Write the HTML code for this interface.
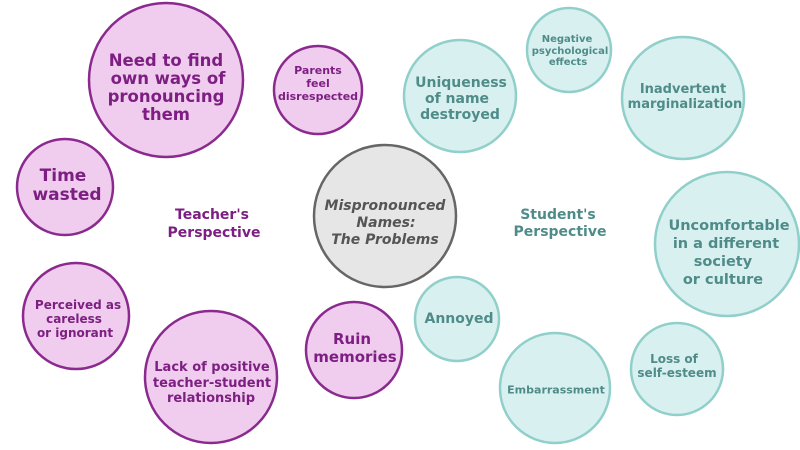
<!DOCTYPE html>
<html><head><meta charset="utf-8"><style>
html,body{margin:0;padding:0;background:#fff;}
svg{display:block;}
text{font-family:"DejaVu Sans","Liberation Sans",sans-serif;font-weight:bold;text-anchor:middle;dominant-baseline:central;}
.p{fill:#7d1f82;}
.t{fill:#4f8c89;}
.pc{fill:#f0cdee;stroke:#8b2a8e;stroke-width:2.5;}
.tc{fill:#d8f0ef;stroke:#90cfca;stroke-width:2.5;}
</style></head><body>
<svg width="800" height="450" viewBox="0 0 800 450">
<circle class="pc" cx="166" cy="80" r="77"/>
<text class="p" font-size="16.5"><tspan x="166" y="60">Need to find</tspan><tspan x="168" y="78">own ways of</tspan><tspan x="166" y="96">pronouncing</tspan><tspan x="166" y="114">them</tspan></text>
<circle class="pc" cx="318" cy="90" r="44"/>
<text class="p" font-size="11"><tspan x="318" y="70">Parents</tspan><tspan x="318" y="83">feel</tspan><tspan x="318" y="96">disrespected</tspan></text>
<circle class="pc" cx="65" cy="187" r="48"/>
<text class="p" font-size="17"><tspan x="63" y="176">Time</tspan><tspan x="67" y="195">wasted</tspan></text>
<circle class="pc" cx="76" cy="316" r="53"/>
<text class="p" font-size="12"><tspan x="78" y="305">Perceived as</tspan><tspan x="74" y="319">careless</tspan><tspan x="75" y="333">or ignorant</tspan></text>
<circle class="pc" cx="211" cy="377" r="66"/>
<text class="p" font-size="13"><tspan x="212" y="367">Lack of positive</tspan><tspan x="212" y="383">teacher-student</tspan><tspan x="211" y="398">relationship</tspan></text>
<circle class="pc" cx="354" cy="350" r="48"/>
<text class="p" font-size="15"><tspan x="352" y="339">Ruin</tspan><tspan x="355" y="357">memories</tspan></text>
<text class="p" font-size="14"><tspan x="212" y="215">Teacher's</tspan><tspan x="214" y="233">Perspective</tspan></text>
<circle cx="385" cy="216" r="71" fill="#e6e6e6" stroke="#666" stroke-width="2.5"/>
<text font-size="14" font-style="italic" fill="#555"><tspan x="385" y="206">Mispronounced</tspan><tspan x="386" y="223">Names:</tspan><tspan x="385" y="240">The Problems</tspan></text>
<circle class="tc" cx="460" cy="96" r="56"/>
<text class="t" font-size="14"><tspan x="461" y="83">Uniqueness</tspan><tspan x="457" y="99">of name</tspan><tspan x="460" y="115">destroyed</tspan></text>
<circle class="tc" cx="569" cy="50" r="42"/>
<text class="t" font-size="10"><tspan x="567" y="39">Negative</tspan><tspan x="570" y="51">psychological</tspan><tspan x="568" y="62">effects</tspan></text>
<circle class="tc" cx="683" cy="98" r="61"/>
<text class="t" font-size="13"><tspan x="683" y="89">Inadvertent</tspan><tspan x="685" y="104">marginalization</tspan></text>
<circle class="tc" cx="727" cy="244" r="72"/>
<text class="t" font-size="14.5"><tspan x="729" y="226">Uncomfortable</tspan><tspan x="726" y="244">in a different</tspan><tspan x="723" y="262">society</tspan><tspan x="723" y="280">or culture</tspan></text>
<circle class="tc" cx="457" cy="319" r="42"/>
<text class="t" font-size="14" x="459" y="319">Annoyed</text>
<circle class="tc" cx="555" cy="388" r="55"/>
<text class="t" font-size="11" x="556" y="390">Embarrassment</text>
<circle class="tc" cx="677" cy="369" r="46"/>
<text class="t" font-size="12"><tspan x="674" y="359">Loss of</tspan><tspan x="677" y="373">self-esteem</tspan></text>
<text class="t" font-size="14"><tspan x="558" y="215">Student's</tspan><tspan x="560" y="232">Perspective</tspan></text>
</svg>
</body></html>
